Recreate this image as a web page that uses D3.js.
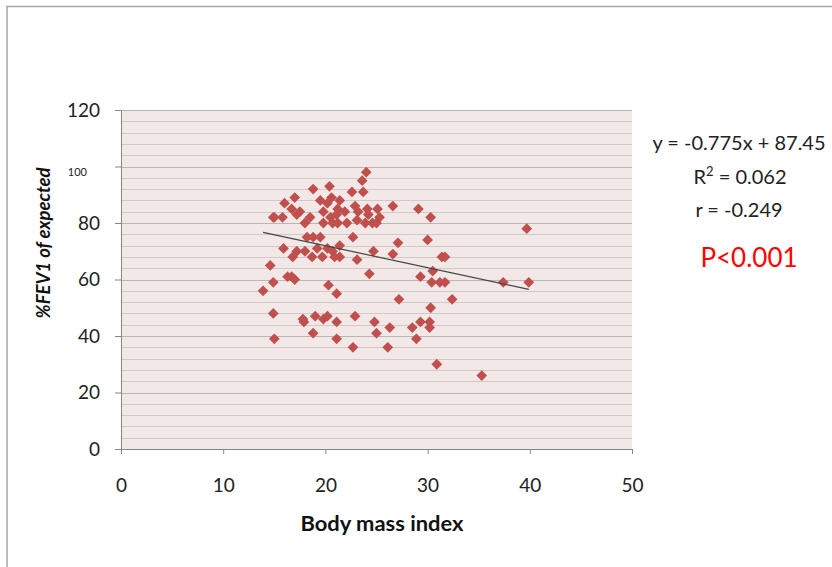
<!DOCTYPE html>
<html><head><meta charset="utf-8">
<script src="https://cdn.jsdelivr.net/npm/d3@7"></script>
<style>body{margin:0;background:#fff}svg{display:block}text{font-family:Lato,"Open Sans",sans-serif}</style>
</head><body><svg id="c" width="832" height="567"></svg>
<script>
const bmi = [
13.9,14.6,14.9,14.9,15.0,15.0,14.9,15.8,16.0,17.0,18.8,20.4,22.6,23.7,23.6,24.0,21.4,19.5,20.2,20.6,
16.7,17.2,17.5,18.0,18.5,19.8,20.5,21.1,19.8,20.7,21.2,21.9,22.9,23.2,24.1,24.2,25.1,25.3,26.6,29.1,
21.2,22.1,23.1,23.9,24.6,25.0,
18.2,18.8,19.5,22.7,21.4,15.9,17.2,18.0,19.2,20.2,20.7,16.8,18.7,19.7,20.9,21.4,23.1,24.7,26.6,27.1,
16.3,16.7,17.0,20.3,21.1,24.3,27.2,29.3,30.3,30.5,30.0,30.3,31.4,31.7,30.4,31.2,31.7,32.4,37.4,39.9,39.7,
17.8,17.9,19.0,18.8,19.8,20.2,21.1,21.1,22.9,22.7,24.8,25.0,26.3,26.1,28.5,29.3,30.2,30.2,28.9,30.9,35.3
];
const fev = [
56,65,59,48,39,82,82,82,87,89,92,93,91,91,95,98,88,88,87,89,
85,83,84,80,82,84,82,83,80,80,85,84,86,84,85,83,85,82,86,85,
80,80,81,80,80,80,
75,75,75,75,72,71,70,70,71,71,70,68,68,68,68,68,67,70,69,73,
61,61,60,58,55,62,53,61,50,63,74,82,68,68,59,59,59,53,59,59,78,
46,45,47,41,46,47,45,39,47,36,45,41,43,36,43,45,45,43,39,30,26
];
const xTicks = [0,10,20,30,40,50];
const yTicks = [0,20,40,60,80,100,120];
const slope = -0.775, intercept = 87.45;
const annot = ["y = -0.775x + 87.45", "R² = 0.062", "r = -0.249", "P<0.001"];
const xTitle = "Body mass index", yTitle = "%FEV1 of expected";

const svg = d3.select("#c");
const L=121,R=632,T=110,B=449;
const x = d3.scaleLinear().domain([0,50]).range([L,R]);
const y = d3.scaleLinear().domain([0,120]).range([B,T]);

// outer frame
svg.append("rect").attr("x",7).attr("y",6.5).attr("width",840).attr("height",600)
  .attr("fill","none").attr("stroke","#a6a6a6").attr("stroke-width",1.5);

// plot background
svg.append("rect").attr("x",L).attr("y",T).attr("width",R-L).attr("height",B-T).attr("fill","#f3e8e8");
// gridlines every 4
const grid = d3.range(4,121,4);
svg.append("g").selectAll("line").data(grid).join("line")
  .attr("x1",L).attr("x2",R).attr("y1",d=>Math.round(y(d))+0.5).attr("y2",d=>Math.round(y(d))+0.5)
  .attr("stroke",d=>d%20===0?"#bdb4b4":"#d2c8c8").attr("stroke-width",1);

// axes
const gx = svg.append("g").attr("transform",`translate(0,${B})`)
  .call(d3.axisBottom(x).tickValues(xTicks).tickSize(5).tickPadding(25).tickFormat(d3.format("d")));
const gy = svg.append("g").attr("transform",`translate(${L},0)`)
  .call(d3.axisLeft(y).tickValues(yTicks).tickSize(6).tickPadding(15).tickFormat(d3.format("d")));
[gx,gy].forEach(g=>{
  g.select(".domain").attr("stroke","#868686");
  g.selectAll(".tick line").attr("stroke","#868686");
  g.selectAll(".tick text").attr("font-size",19).attr("fill","#222");
});
gy.selectAll(".tick text").filter(d=>d===100).attr("font-size",11).attr("dy","0.8em").attr("dx","-13");

// points
const pts = bmi.map((b,i)=>({b,f:fev[i]}));
svg.append("g").selectAll("path").data(pts).join("path")
  .attr("d",d3.symbol(d3.symbolSquare,58))
  .attr("transform",d=>`translate(${x(d.b)},${y(d.f)}) rotate(45)`)
  .attr("fill","#c0504d");

// trend line
const [mn,mx] = d3.extent(bmi);
svg.append("line").attr("x1",x(mn)).attr("y1",y(slope*mn+intercept))
  .attr("x2",x(mx)).attr("y2",y(slope*mx+intercept))
  .attr("stroke","#444").attr("stroke-width",1.2);

// titles
svg.append("text").attr("x",382).attr("y",531).attr("text-anchor","middle")
  .attr("font-size",20).attr("font-weight","bold").attr("fill","#111")
  .attr("textLength",163).attr("lengthAdjust","spacingAndGlyphs").text(xTitle);
svg.append("text").attr("transform","translate(50,243) rotate(-90)").attr("text-anchor","middle")
  .attr("font-size",18.5).attr("font-weight","bold").attr("font-style","italic").attr("fill","#111").text(yTitle);

// annotations
svg.append("text").attr("x",739).attr("y",150).attr("text-anchor","middle").attr("font-size",20).attr("fill","#222").text(annot[0]);
const r2 = svg.append("text").attr("x",740).attr("y",184).attr("text-anchor","middle").attr("font-size",20).attr("fill","#222");
r2.append("tspan").text("R");
r2.append("tspan").attr("dy",-8).attr("font-size",13).text("2");
r2.append("tspan").attr("dy",8).text(" = 0.062");
svg.append("text").attr("x",739).attr("y",217).attr("text-anchor","middle").attr("font-size",20).attr("fill","#222").text(annot[2]);
svg.append("text").attr("x",749).attr("y",267).attr("text-anchor","middle").attr("font-size",26).attr("fill","#ff0000").text(annot[3]);
</script></body></html>
